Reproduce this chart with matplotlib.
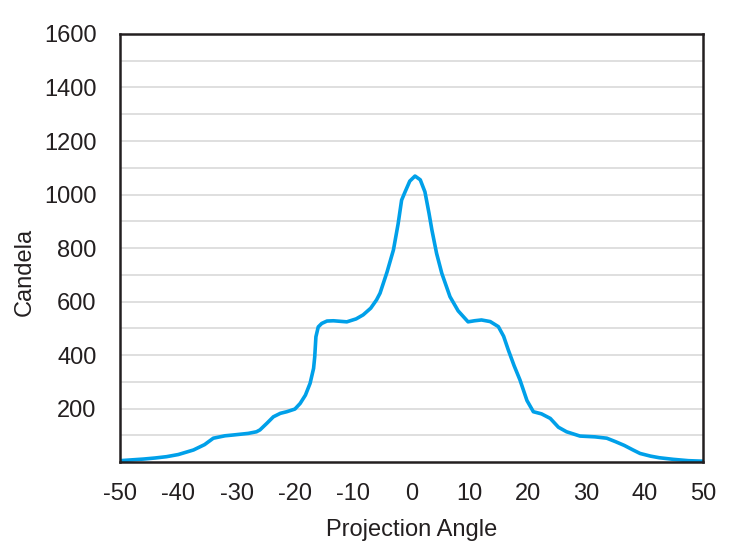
import matplotlib
matplotlib.use("Agg")
import matplotlib.pyplot as plt

angle = [-50, -48, -46, -44, -42, -40, -37.4, -35.5, -34, -32, -30.6, -28, -26.6, -26,
         -24.8, -23.7, -22.5, -21.4, -20, -19.1, -18.2, -17.4, -16.8, -16.6, -16.4,
         -16.0, -15.4, -14.5, -13.4, -11.1, -9.5, -8.3, -7, -6.0, -5.4, -4.2, -3.1,
         -2.3, -1.7, -1.1, -0.3, 0.6, 1.5, 2.3, 3.0, 3.5, 4.3, 5.2, 6.6, 8.0, 9.7,
         10.8, 12.0, 13.5, 14.9, 15.8, 16.6, 17.6, 18.6, 19.8, 20.9, 22.3, 23.8, 25.2,
         26.6, 28.9, 31.5, 33.5, 35, 36.5, 38, 39.2, 41, 42.5, 44.9, 47.5, 50]
candela = [5, 8, 11, 15, 20, 28, 45, 65, 89, 98, 101, 107, 113, 120,
           145, 169, 182, 188, 198, 219, 250, 294, 350, 394, 468,
           505, 518, 527, 528, 524, 535, 550, 575, 606, 631, 710, 793,
           890, 979, 1010, 1050, 1069, 1055, 1010, 930, 867, 780, 705, 618, 565, 524,
           528, 531, 525, 506, 470, 419, 360, 307, 230, 188, 180, 163, 130,
           113, 97, 94, 89, 76, 62, 45, 32, 22, 16, 10, 5, 3]

plt.rcParams["font.family"] = ["Liberation Sans", "DejaVu Sans"]
plt.rcParams["axes.unicode_minus"] = False

fig = plt.figure(figsize=(7.31, 5.51), dpi=100)
ax = fig.add_axes([0.1642, 0.1615, 0.7975, 0.7768])

ax.plot(angle, candela, color="#00a0e9", lw=2.6, solid_joinstyle="round",
        solid_capstyle="round")

ax.set_xlim(-50, 50)
ax.set_ylim(0, 1600)
ax.set_xticks(range(-50, 51, 10))
ax.set_yticks(range(200, 1601, 200))
ax.set_yticks(range(100, 1600, 100), minor=True)
ax.grid(axis="y", which="both", color="#d9d9d9", lw=1.2)
ax.set_axisbelow(True)
ax.tick_params(which="both", length=0, labelsize=17, colors="#231f20")
ax.tick_params(axis="y", pad=17)
ax.tick_params(axis="x", pad=15)

for s in ax.spines.values():
    s.set_color("#231f20")
    s.set_linewidth(1.8)

ax.set_xlabel("Projection Angle", fontsize=17, color="#231f20", labelpad=10)
ax.set_ylabel("Candela", fontsize=17, color="#231f20")
ax.yaxis.set_label_coords(-0.144, 0.444)

fig.savefig("out.png", dpi=100)
